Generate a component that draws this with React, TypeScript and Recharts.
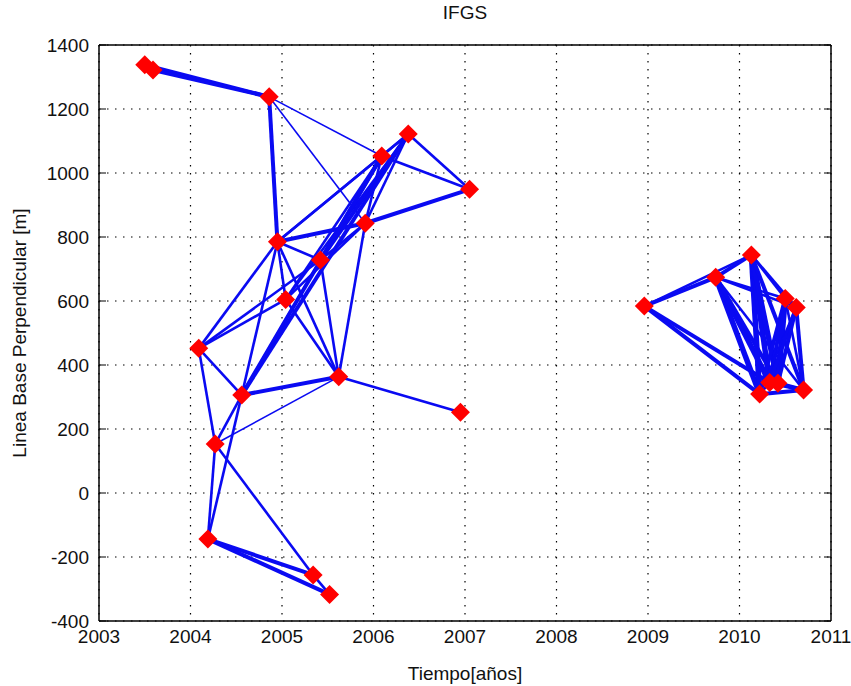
import { ComposedChart, Scatter, XAxis, YAxis, CartesianGrid, Label } from "recharts";

// acquisition dates (decimal years) and perpendicular baselines [m]
const nodeIds = ["A1", "A2", "B", "C", "D", "E", "F", "G", "H", "I", "J", "K", "L", "M", "N", "O", "P", "Q", "R", "S", "T", "U", "V", "W", "X", "Y", "Z"];
const nodeDates = [2003.5, 2003.59, 2004.86, 2006.38, 2006.09, 2007.05, 2005.91, 2004.95, 2005.42, 2005.04, 2004.09, 2005.62, 2004.56, 2006.95, 2004.27, 2004.19, 2005.34, 2005.52, 2008.96, 2009.74, 2010.13, 2010.5, 2010.62, 2010.22, 2010.33, 2010.42, 2010.7];
const nodeBaselines = [1338, 1322, 1238, 1122, 1053, 949, 843, 785, 728, 605, 452, 363, 306, 252, 153, -144, -256, -317, 584, 674, 744, 608, 580, 309, 345, 343, 322];

// interferogram pairs: [from, to, weight] (weight 1 thin, 2 normal, 3 bundle, 4 heavy bundle)
const pairs: [string, string, number][] = [
  ["A1", "B", 3], ["A2", "B", 3], ["A1", "A2", 2],
  ["B", "G", 3], ["B", "D", 1], ["B", "F", 1],
  ["C", "D", 2], ["C", "E", 2], ["D", "E", 2], ["F", "E", 3],
  ["F", "C", 2], ["F", "D", 2], ["G", "F", 3], ["G", "D", 2], ["G", "C", 2],
  ["G", "H", 2], ["G", "I", 2], ["G", "K", 2], ["G", "J", 2], ["G", "L", 2],
  ["H", "D", 3], ["H", "C", 3], ["H", "F", 2], ["H", "K", 2],
  ["I", "D", 2], ["I", "C", 2], ["I", "F", 2], ["I", "K", 2],
  ["J", "H", 2], ["J", "I", 2], ["J", "L", 2], ["J", "N", 2],
  ["L", "C", 3], ["L", "D", 3], ["L", "H", 2], ["L", "K", 3], ["L", "N", 2], ["L", "O", 2],
  ["K", "F", 2], ["K", "M", 2], ["K", "N", 1],
  ["N", "O", 2], ["N", "P", 2], ["O", "P", 3], ["O", "Q", 3], ["P", "Q", 2],
  ["R", "S", 3], ["R", "T", 2], ["R", "W", 3], ["R", "X", 3],
  ["S", "T", 3], ["S", "U", 2], ["S", "V", 2], ["S", "W", 4], ["S", "X", 4], ["S", "Y", 3], ["S", "Z", 2],
  ["T", "U", 2], ["T", "V", 2], ["T", "W", 4], ["T", "X", 4], ["T", "Y", 4], ["T", "Z", 3],
  ["U", "V", 2], ["U", "W", 3], ["U", "X", 3], ["U", "Y", 4], ["U", "Z", 2],
  ["V", "W", 2], ["V", "X", 3], ["V", "Z", 3], ["V", "Y", 3],
  ["W", "X", 2], ["X", "Y", 2], ["Y", "Z", 3], ["W", "Z", 3], ["X", "Z", 3],
];

const yearTicks = [2003, 2004, 2005, 2006, 2007, 2008, 2009, 2010, 2011];
const baselineTicks = [-400, -200, 0, 200, 400, 600, 800, 1000, 1200, 1400];

const BLUE = "#0a0af2";
const widths = [0, 1.6, 2.6, 4, 5.5];

const nodes = nodeIds.map((id, i) => ({ id, x: nodeDates[i], y: nodeBaselines[i] }));
const byId = (id: string) => nodes.find((n) => n.id === id)!;

const Diamond = (props: any) => {
  const { cx, cy } = props;
  const r = 9.5;
  return <polygon points={`${cx},${cy - r} ${cx + r},${cy} ${cx},${cy + r} ${cx - r},${cy}`} fill="#ff0000" />;
};

const noTick = () => <g />;
const tickStyle = { fontSize: 19, fill: "#111" };

export default function App() {
  return (
    <div style={{ position: "absolute", left: 0, top: 0, width: 851, height: 686, background: "#fff", fontFamily: "'Liberation Sans', Arial, sans-serif" }}>
      <div style={{ position: "absolute", left: 99, width: 732, top: 1, textAlign: "center", fontSize: 19, lineHeight: "24px", color: "#111" }}>IFGS</div>
      <ComposedChart width={851} height={686} margin={{ top: 45, right: 20, bottom: 0, left: 0 }}>
        <CartesianGrid stroke="#000" strokeDasharray="1.5 6.5" strokeWidth={1.2} />
        <XAxis type="number" dataKey="x" domain={[2003, 2011]} ticks={yearTicks} allowDataOverflow height={65} tickLine={false} tickSize={0} tickMargin={9} axisLine={{ stroke: "#000", strokeWidth: 1.5 }} tick={tickStyle} interval={0}>
          <Label value="Tiempo[años]" position="insideBottom" offset={6} style={{ fontSize: 19, fill: "#111" }} />
        </XAxis>
        <XAxis xAxisId="bm" type="number" mirror domain={[2003, 2011]} ticks={yearTicks} allowDataOverflow tickSize={7} axisLine={false} tickLine={{ stroke: "#000" }} tick={noTick} interval={0} />
        <XAxis xAxisId="tm" type="number" orientation="top" mirror domain={[2003, 2011]} ticks={yearTicks} allowDataOverflow tickSize={7} axisLine={{ stroke: "#000", strokeWidth: 1.5 }} tickLine={{ stroke: "#000" }} tick={noTick} interval={0} />
        <YAxis type="number" dataKey="y" domain={[-400, 1400]} ticks={baselineTicks} allowDataOverflow width={99} tickLine={false} tickSize={0} tickMargin={10} axisLine={{ stroke: "#000", strokeWidth: 1.5 }} tick={tickStyle} interval={0}>
          <Label
            content={(p: any) => {
              const vb = p.viewBox;
              const cx = vb.x + 19;
              const cy = vb.y + vb.height / 2;
              return (
                <text x={cx} y={cy} transform={`rotate(-90, ${cx}, ${cy})`} textAnchor="middle" dominantBaseline="central" fontSize={19} fill="#111">
                  Linea Base Perpendicular [m]
                </text>
              );
            }}
          />
        </YAxis>
        <YAxis yAxisId="lm" type="number" mirror domain={[-400, 1400]} ticks={baselineTicks} allowDataOverflow tickSize={7} axisLine={false} tickLine={{ stroke: "#000" }} tick={noTick} interval={0} />
        <YAxis yAxisId="rm" type="number" orientation="right" mirror domain={[-400, 1400]} ticks={baselineTicks} allowDataOverflow tickSize={7} axisLine={{ stroke: "#000", strokeWidth: 1.5 }} tickLine={{ stroke: "#000" }} tick={noTick} interval={0} />
        {pairs.map(([a, b, w], i) => (
          <Scatter
            key={`e${i}`}
            data={[byId(a), byId(b)]}
            line={{ stroke: BLUE, strokeWidth: widths[w] }}
            shape={noTick}
            isAnimationActive={false}
          />
        ))}
        <Scatter data={nodes} shape={Diamond} isAnimationActive={false} />
      </ComposedChart>
    </div>
  );
}
